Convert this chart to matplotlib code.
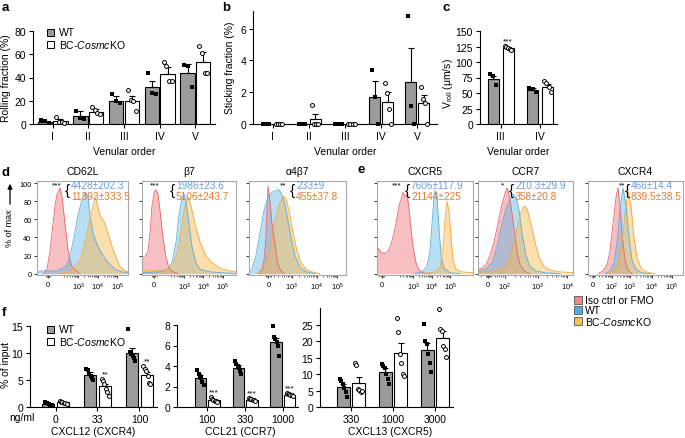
import matplotlib
matplotlib.use("Agg")
import matplotlib.pyplot as plt
from matplotlib.patches import Rectangle
import numpy as np

plt.rcParams['font.family'] = ['Liberation Sans', 'DejaVu Sans']
plt.rcParams['mathtext.fontset'] = 'custom'
plt.rcParams['mathtext.rm'] = 'Liberation Sans'
plt.rcParams['mathtext.it'] = 'Liberation Sans:italic'
plt.rcParams['font.size'] = 7.5
plt.rcParams['axes.linewidth'] = 0.8

KO_LABEL = 'BC-$\\it{Cosmc}$KO'

# ---------------- a: rolling fraction ----------------
venular = ['I', 'II', 'III', 'IV', 'V']
roll_wt_mean = [2.0, 7.2, 20.0, 31.5, 44.0]
roll_wt_sem = [0.8, 4.0, 4.4, 5.7, 7.5]
roll_ko_mean = [3.0, 10.3, 20.2, 43.2, 53.6]
roll_ko_sem = [1.3, 2.6, 4.0, 5.5, 8.0]
roll_wt_pts = [[3.8, 2.6, 1.2], [11.5, 5.5, 4.5], [26.0, 19.5, 18.0], [44.0, 27.0, 26.0], [51.0, 49.5, 32.0]]
roll_ko_pts = [[6.0, 2.0, 1.5, 1.0], [14.5, 12.0, 9.5, 8.5], [29.0, 21.0, 19.5, 11.5],
               [53.0, 50.0, 37.0, 37.0], [67.0, 61.5, 44.0, 44.0]]

# ---------------- b: sticking fraction ----------------
stick_wt_mean = [0, 0, 0, 1.7, 2.63]
stick_wt_sem = [0, 0, 0, 1.0, 2.15]
stick_ko_mean = [0, 0.3, 0, 1.4, 1.31]
stick_ko_sem = [0, 0.3, 0, 0.6, 0.5]
stick_wt_pts = [[0, 0, 0], [0, 0, 0], [0, 0, 0], [3.4, 1.7, 0], [6.8, 1.1, 0]]
stick_ko_pts = [[0, 0, 0, 0], [1.2, 0, 0, 0], [0, 0, 0, 0], [2.6, 1.95, 0.95, 0], [2.35, 1.6, 1.3, 0]]

# ---------------- c: V roll ----------------
vroll_order = ['III', 'IV']
vroll_wt_mean = [73, 55.5]
vroll_wt_sem = [5, 2]
vroll_ko_mean = [122, 60]
vroll_ko_sem = [1.8, 4.2]
vroll_wt_pts = [[80, 77, 63], [57.5, 56, 52]]
vroll_ko_pts = [[126, 124, 123, 121, 119], [69, 66, 59, 52]]
vroll_sig = ['***', '']

# ---------------- d/e: histograms (x in display channel 0-100) ----------------
hist_titles = ['CD62L', '\u03b27', '\u03b14\u03b27', 'CXCR5', 'CCR7', 'CXCR4']
hist_wt_mfi = ['4428\u00b1202.3', '1986\u00b123.6', '233\u00b19', '7606\u00b1117.9', '210.3\u00b129.9', '466\u00b114.4']
hist_ko_mfi = ['11393\u00b1333.5', '5106\u00b1243.7', '455\u00b137.8', '21144\u00b1225', '358\u00b120.8', '839.5\u00b138.5']
hist_sig = ['***', '***', '**', '***', '*', '**']
hist_tick_pos = [[12, 45, 67, 88], [13, 45, 65, 86], [20, 44, 70, 91],
                 [5, 37.5, 57, 76], [10.5, 28, 63, 94], [5, 25, 44, 67, 88]]
hist_tick_lab = [['0', '$10^3$', '$10^4$', '$10^5$']] * 4 + \
                [['0', '$10^2$', '$10^3$', '$10^4$'], ['0', '$10^2$', '$10^3$', '$10^4$', '$10^5$']]

cd62l_iso = ([6.6, 11, 14.3, 17.6, 19.8, 22, 25.3, 27.5, 29.7, 31.9, 34, 36.3, 38.5, 42.9, 47.3],
             [0, 5, 25, 55, 75, 88, 95, 85, 65, 45, 27, 15, 8, 3, 0])
cd62l_wt = ([0, 3.3, 19.8, 27.5, 33, 37.4, 40.7, 45, 49.5, 52.7, 56, 58.2, 61.5, 66, 71.4, 78, 85.7, 93.4, 100],
            [0, 3, 3, 5, 10, 25, 40, 65, 82, 90, 86, 65, 45, 32, 22, 12, 5, 2, 1])
cd62l_ko = ([25.3, 34, 40.7, 47.3, 51.6, 56, 59.3, 61.5, 63.7, 65.9, 69.2, 73.6, 78, 82.4, 86.8, 91.2, 95.6, 100],
            [0, 2, 6, 15, 30, 50, 65, 75, 85, 78, 65, 58, 45, 30, 18, 8, 4, 2])

b7_iso = ([0, 4.3, 6.4, 8.5, 10.6, 12.8, 14.9, 17, 19.1, 22.3, 25.5, 28.7, 33, 38.3],
          [18, 20, 25, 45, 75, 90, 93, 88, 70, 40, 18, 6, 2, 0])
b7_wt = ([0, 19.1, 27.7, 31.9, 36.2, 39.4, 42.6, 44.7, 46.8, 50, 53.2, 57.4, 61.7, 72.3, 100],
         [1, 2, 5, 12, 35, 65, 85, 88, 80, 55, 30, 12, 5, 2, 0])
b7_ko = ([0, 8.5, 24.5, 31.9, 38.3, 42.6, 45.7, 48.9, 52.1, 56.4, 61.7, 68.1, 74.5, 83, 93.6, 100],
         [4, 3, 4, 8, 25, 55, 75, 85, 75, 55, 35, 20, 12, 6, 3, 2])

a4b7_iso = ([9.3, 13.4, 15.5, 17.5, 18.6, 19.6, 21.6, 23.7, 25.8, 27.8, 29.9, 33, 37.1],
            [0, 5, 15, 40, 75, 97, 80, 55, 40, 25, 10, 3, 0])
a4b7_wt = ([0, 3.1, 7.2, 11.3, 15.5, 19.6, 23.7, 27.8, 30.9, 35, 39.2, 43.3, 47.4, 52.6, 58.8, 68],
           [1, 5, 20, 45, 70, 85, 90, 92, 93, 85, 65, 40, 20, 7, 2, 0])
a4b7_ko = ([9.3, 14.4, 18.6, 22.7, 26.8, 30.9, 35, 38.1, 41.2, 45.4, 49.5, 53.6, 58.8, 64.9, 73.2],
           [0, 4, 15, 35, 58, 75, 86, 83, 70, 45, 25, 12, 5, 2, 0])

cxcr5_iso = ([0, 3.1, 7.3, 11.5, 14.6, 17.7, 20.8, 22.9, 25, 27.1, 29.2, 31.3, 33.3, 35.4, 37.5, 40.6, 43.8, 47.9, 55.2],
             [30, 25, 22, 25, 32, 45, 62, 75, 82, 90, 85, 88, 72, 50, 30, 12, 4, 1, 0])
cxcr5_wt = ([39.6, 46.9, 52.1, 55.2, 57.3, 59.4, 60.4, 62.5, 64.6, 66.7, 69.8, 76, 86.5],
            [0, 2, 8, 25, 55, 85, 92, 85, 50, 20, 6, 1, 0])
cxcr5_ko = ([50, 60.4, 65.6, 68.8, 70.8, 72.9, 75, 77.1, 79.2, 82.3, 88.5, 100],
            [0, 2, 6, 30, 60, 80, 70, 40, 15, 5, 2, 1])

ccr7_iso = ([0, 4.2, 8.4, 12.6, 16.8, 21, 24.2, 27.4, 30.5, 32.6, 34.7, 37.9, 41.1, 44.2, 48.4, 54.7],
            [5, 6, 10, 20, 35, 55, 72, 85, 95, 88, 75, 50, 25, 10, 3, 0])
ccr7_wt = ([0, 8.4, 14.7, 20, 25.3, 29.5, 33.7, 36.8, 40, 43.2, 46.3, 50.5, 54.7, 61.1, 70.5, 86.3],
           [3, 5, 12, 30, 55, 72, 82, 88, 85, 70, 45, 20, 8, 3, 1, 0])
ccr7_ko = ([0, 17.9, 26.3, 32.6, 37.9, 42.1, 45.3, 48.4, 51.6, 55.8, 60, 64.2, 69.5, 75.8, 86.3, 100],
           [2, 3, 6, 15, 35, 55, 68, 75, 72, 55, 35, 18, 8, 4, 2, 1])

cxcr4_iso = ([10.5, 15.8, 20, 23.2, 26.3, 29.5, 31.6, 33.7, 35.8, 38.9, 42.1, 46.3],
             [0, 3, 10, 25, 55, 85, 95, 75, 45, 15, 4, 0])
cxcr4_wt = ([17.9, 23.2, 27.4, 30.5, 33.7, 36.8, 40, 43.2, 46.3, 50.5, 56.8, 65.3],
            [0, 3, 12, 35, 70, 95, 75, 40, 15, 5, 1, 0])
cxcr4_ko = ([21, 26.3, 31.6, 35.8, 38.9, 42.1, 45.3, 48.4, 51.6, 55.8, 61.1, 70.5],
            [0, 3, 10, 35, 65, 92, 75, 40, 18, 6, 2, 0])

hist_curves = [(cd62l_iso, cd62l_wt, cd62l_ko), (b7_iso, b7_wt, b7_ko), (a4b7_iso, a4b7_wt, a4b7_ko),
               (cxcr5_iso, cxcr5_wt, cxcr5_ko), (ccr7_iso, ccr7_wt, ccr7_ko), (cxcr4_iso, cxcr4_wt, cxcr4_ko)]

# ---------------- f: chemotaxis ----------------
cxcl12_doses = ['0', '33', '100']
cxcl12_wt_mean = [0.5, 6.0, 10.0]
cxcl12_wt_sem = [0.1, 0.4, 1.0]
cxcl12_ko_mean = [0.85, 3.8, 6.0]
cxcl12_ko_sem = [0.1, 0.45, 0.45]
cxcl12_wt_pts = [[0.9, 0.8, 0.7, 0.5, 0.4, 0.3], [7.0, 6.9, 6.2, 5.8, 5.4, 5.0], [14.5, 10.1, 9.8, 9.4, 9.0, 8.5]]
cxcl12_ko_pts = [[1.1, 1.0, 0.9, 0.8, 0.7, 0.6], [5.2, 4.8, 4.2, 3.3, 2.7, 2.0], [7.6, 7.0, 6.7, 5.7, 4.5, 4.2]]
cxcl12_sig = ['', '**', '**']

ccl21_doses = ['100', '330', '1000']
ccl21_wt_mean = [2.85, 3.85, 6.3]
ccl21_wt_sem = [0.25, 0.2, 0.4]
ccl21_ko_mean = [0.7, 0.72, 1.2]
ccl21_ko_sem = [0.07, 0.05, 0.05]
ccl21_wt_pts = [[3.6, 3.2, 3.0, 2.8, 2.4, 2.1], [4.5, 4.2, 4.0, 3.8, 3.5, 3.2], [7.9, 6.8, 6.6, 6.3, 5.95, 5.0]]
ccl21_ko_pts = [[0.95, 0.8, 0.7, 0.6, 0.55, 0.5], [0.85, 0.8, 0.75, 0.7, 0.65, 0.6], [1.35, 1.3, 1.25, 1.2, 1.15, 1.1]]
ccl21_sig = ['***', '***', '***']

cxcl13_doses = ['330', '1000', '3000']
cxcl13_wt_mean = [6.2, 10.7, 17.5]
cxcl13_wt_sem = [0.8, 1.1, 2.0]
cxcl13_ko_mean = [7.4, 16.6, 21.1]
cxcl13_ko_sem = [1.7, 3.0, 2.1]
cxcl13_wt_pts = [[8.4, 7.9, 6.9, 5.9, 4.7, 3.0], [13.0, 12.5, 12.0, 10.0, 8.4, 7.1], [25.2, 20.1, 19.1, 16.3, 13.5, 10.8]]
cxcl13_ko_pts = [[13.3, 12.8, 5.4, 5.1, 4.7, 4.9], [27.2, 23.0, 16.1, 13.5, 10.2, 9.5], [29.8, 23.7, 23.2, 18.6, 17.6, 15.2]]
cxcl13_sig = ['', '', '']

# ---------------- drawing ----------------
W, H = 685, 439
fig = plt.figure(figsize=(W / 100, H / 100), dpi=100)


def box(l, t, r, b):
    return fig.add_axes([l / W, 1 - b / H, (r - l) / W, (b - t) / H])


def spread(n, w):
    if n == 1:
        return np.zeros(1)
    return np.linspace(-w, w, n)


def bar_panel(ax, labels, wm, ws, km, ks, wp, kp, width, off, ylim, yticks, sig=None, sig_pad=0.0):
    x = np.arange(len(labels))
    ax.bar(x - off, wm, width, color='#9b9b9b', edgecolor='black', lw=0.8, zorder=2)
    ax.bar(x + off, km, width, color='white', edgecolor='black', lw=0.8, zorder=2)
    ax.errorbar(x - off, wm, yerr=[np.zeros(len(x)), ws], fmt='none', ecolor='black',
                elinewidth=0.8, capsize=2, capthick=0.8, zorder=3)
    ax.errorbar(x + off, km, yerr=[np.zeros(len(x)), ks], fmt='none', ecolor='black',
                elinewidth=0.8, capsize=2, capthick=0.8, zorder=3)
    for i in range(len(x)):
        ax.scatter(i - off + spread(len(wp[i]), width * 0.28), wp[i], marker='s', s=7,
                   color='black', zorder=4, clip_on=False, lw=0)
        ax.scatter(i + off + spread(len(kp[i]), width * 0.28), kp[i], marker='o', s=8,
                   facecolor='white', edgecolor='black', lw=0.7, zorder=4, clip_on=False)
        if sig and sig[i]:
            top = max(max(kp[i]), km[i] + ks[i])
            ax.text(i + off, top + sig_pad, sig[i], ha='center', va='bottom', fontsize=6)
    ax.set_xticks(x)
    ax.set_xticklabels(labels)
    ax.set_ylim(*ylim)
    ax.set_yticks(yticks)
    for s in ['top', 'right']:
        ax.spines[s].set_visible(False)
    ax.tick_params(length=3, width=0.8, pad=2, labelsize=7.5)


# a
ax_a = box(33, 32, 215, 125)
bar_panel(ax_a, venular, roll_wt_mean, roll_wt_sem, roll_ko_mean, roll_ko_sem, roll_wt_pts, roll_ko_pts,
          0.4, 0.22, (0, 80), [0, 20, 40, 60, 80])
ax_a.set_xlim(-0.55, 4.55)

# b
ax_b = box(253, 12, 437, 125)
bar_panel(ax_b, venular, stick_wt_mean, stick_wt_sem, stick_ko_mean, stick_ko_sem, stick_wt_pts, stick_ko_pts,
          0.3, 0.18, (0, 7.1), [0, 2, 4, 6])
ax_b.set_xlim(-0.55, 4.55)

# c
ax_c = box(480, 32, 557, 125)
bar_panel(ax_c, vroll_order, vroll_wt_mean, vroll_wt_sem, vroll_ko_mean, vroll_ko_sem, vroll_wt_pts, vroll_ko_pts,
          0.28, 0.19, (0, 150), [0, 25, 50, 75, 100, 125, 150], sig=vroll_sig, sig_pad=3)
ax_c.set_xlim(-0.52, 1.43)

# histograms
hist_boxes = [(37, 128), (142, 236), (249, 346), (377, 473), (478, 573), (588, 683)]
fills = ['#ee7377', '#62b6e4', '#fbb649']
edges = ['#e8666a', '#5aaede', '#f5a83a']
for k, (l, r) in enumerate(hist_boxes):
    ax = box(l, 182, r, 276)
    for (cx, cy), fc, ec in zip(hist_curves[k], fills, edges):
        ax.fill_between(cx, cy, 0, color=fc, alpha=0.45, lw=0)
        ax.plot(cx, cy, color=ec, lw=0.6)
    ax.set_xlim(0, 100)
    ax.set_ylim(-1.5, 102.5)
    pos = hist_tick_pos[k]
    ax.set_xticks(pos)
    ax.set_xticklabels(hist_tick_lab[k])
    minors = [pos[0] - 2.5, pos[0] - 1.2, pos[0] + 1.2, pos[0] + 2.5]
    for p, q in zip(pos[1:-1], pos[2:]):
        minors += [p + np.log10(m) * (q - p) for m in range(2, 10)]
    step = pos[2] - pos[1]
    minors += [pos[1] - (1 - np.log10(m)) * step for m in range(2, 10)]
    ax.set_xticks([m for m in minors if 0 < m < 100], minor=True)
    ax.set_yticks([0, 20, 40, 60, 80, 100])
    if k == 0:
        ax.set_yticklabels(['0', '20', '40', '60', '80', '100'])
    else:
        ax.set_yticklabels([])
    for s in ax.spines.values():
        s.set_color('#a8a8a8')
        s.set_linewidth(0.8)
    ax.tick_params(which='major', length=2.5, width=0.7, pad=1.5, labelsize=5.3, color='#333333')
    ax.tick_params(which='minor', length=1.5, width=0.5, color='#333333')

# f
f_sets = [
    (cxcl12_doses, cxcl12_wt_mean, cxcl12_wt_sem, cxcl12_ko_mean, cxcl12_ko_sem, cxcl12_wt_pts, cxcl12_ko_pts,
     (0, 15), [0, 5, 10, 15], cxcl12_sig, (30, 327, 157), (-0.61, 2.42)),
    (ccl21_doses, ccl21_wt_mean, ccl21_wt_sem, ccl21_ko_mean, ccl21_ko_sem, ccl21_wt_pts, ccl21_ko_pts,
     (0, 8), [0, 2, 4, 6, 8], ccl21_sig, (177, 326, 298), (-0.8, 2.4)),
    (cxcl13_doses, cxcl13_wt_mean, cxcl13_wt_sem, cxcl13_ko_mean, cxcl13_ko_sem, cxcl13_wt_pts, cxcl13_ko_pts,
     (0, 30.2), [0, 5, 10, 15, 20, 25], cxcl13_sig, (320, 309, 453), (-0.74, 2.43)),
]
for doses, wm, ws, km, ks, wp, kp, yl, yt, sig, (l, t, r), xl in f_sets:
    ax = box(l, t, r, 408)
    bar_panel(ax, doses, wm, ws, km, ks, wp, kp, 0.3, 0.18, yl, yt, sig=sig, sig_pad=yl[1] * 0.02)
    ax.set_xlim(*xl)

# overlay for labels / legends
ov = fig.add_axes([0, 0, 1, 1])
ov.set_xlim(0, W)
ov.set_ylim(H, 0)
ov.axis('off')

for lab, (x, y) in zip('abcdef', [(2, 8), (222, 8), (443, 8), (2, 173), (358, 170), (2, 313)]):
    ov.text(x, y, lab, fontsize=9.5, fontweight='bold', va='center', ha='left')

ov.text(6, 78, 'Rolling fraction (%)', rotation=90, ha='center', va='center')
ov.text(230, 68, 'Sticking fraction (%)', rotation=90, ha='center', va='center')
ov.text(448, 84, 'V$_{\\rm roll}$ (\u03bcm/s)', rotation=90, ha='center', va='center')
for x in [124, 345, 518]:
    ov.text(x, 152, 'Venular order', ha='center', va='center')

# legend a and f
for y0 in [33, 330]:
    for j, (fc, lab) in enumerate([('#9b9b9b', 'WT'), ('white', KO_LABEL)]):
        ov.add_patch(Rectangle((47, y0 + j * 12 - 3.5), 7, 7, facecolor=fc, edgecolor='black', lw=0.7))
        ov.text(59, y0 + j * 12, lab, va='center', ha='left', fontsize=7.5)

# histogram labels
ov.text(10, 228, '% of max', rotation=90, ha='center', va='center', fontsize=6.5)
ov.annotate('', xy=(10, 182), xytext=(10, 208),
            arrowprops=dict(arrowstyle='-|>', lw=0.9, color='black', mutation_scale=7))
sig_x = [57, 155, 283, 397, 503, 622]
brace_x = [67, 172, 292, 407, 511, 627]
for k, (l, r) in enumerate(hist_boxes):
    ov.text((l + r) / 2, 172, hist_titles[k], ha='center', va='center', fontsize=7.5)
    ov.text(sig_x[k], 186, hist_sig[k], ha='center', va='center', fontsize=6)
    ov.text(brace_x[k] + 2.5, 191, '{', ha='right', va='center', fontsize=11)
    ov.text(brace_x[k] + 4, 186.5, hist_wt_mfi[k], ha='left', va='center', fontsize=7.3, color='#6b9ede')
    ov.text(brace_x[k] + 4, 197, hist_ko_mfi[k], ha='left', va='center', fontsize=7.3, color='#ea7a2c')

leg_cols = ['#f28a86', '#56a9dc', '#fbc24a']
leg_labs = ['Iso ctrl or FMO', 'WT', KO_LABEL]
for j, (fc, lab) in enumerate(zip(leg_cols, leg_labs)):
    ov.add_patch(Rectangle((574, 297 + j * 10.3), 8, 8, facecolor=fc, edgecolor='#555555', lw=0.6))
    ov.text(585, 301 + j * 10.3, lab, va='center', ha='left', fontsize=7.5)

# f labels
ov.text(6, 365, '% of input', rotation=90, ha='center', va='center')
ov.text(22, 418, 'ng/ml', ha='center', va='center')
ov.text(93, 432, 'CXCL12 (CXCR4)', ha='center', va='center')
ov.text(240, 432, 'CCL21 (CCR7)', ha='center', va='center')
ov.text(390, 432, 'CXCL13 (CXCR5)', ha='center', va='center')

fig.savefig('out.png', dpi=100)
